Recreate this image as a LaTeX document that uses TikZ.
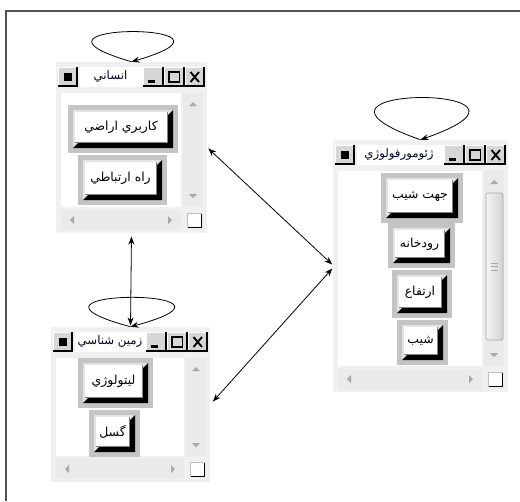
\documentclass[tikz,border=0pt]{standalone}
\usepackage{fontspec}
\usetikzlibrary{arrows.meta,fit}
\TeXXeTstate=1
\newfontfamily\arabicfont[Script=Arabic]{DejaVu Sans}
\definecolor{winbg}{HTML}{F0F0F0}
\definecolor{btnframe}{HTML}{C4C4C4}
\definecolor{btnhi}{HTML}{E4E4E4}
\definecolor{tbface}{HTML}{D6D6D6}
\definecolor{scrollbg}{HTML}{EAEAEA}
\definecolor{arrowgray}{HTML}{A8A8A8}
\definecolor{framegray}{HTML}{505050}
\tikzset{
  win/.style={fill=winbg, draw=none, inner sep=0pt},
  btntext/.style={font=\arabicfont\fontsize{9.3}{11}\selectfont, inner sep=0pt, text=black},
  titletext/.style={font=\arabicfont\fontsize{8.8}{11}\selectfont, inner sep=0pt, text=black!85!blue},
  tip/.tip={Stealth[length=6pt,width=4.5pt]},
  edge/.style={tip-tip, line width=0.6pt},
  selfloop/.style={-tip, line width=0.6pt},
}
% title-bar button face
\newcommand\tbtn[4]{%
  \fill[tbface] (#1,#2) rectangle (#3,#4);
  \draw[white, line width=0.75pt] (#1+0.5,#4-0.5) -- (#1+0.5,#2+0.5) -- (#3-0.5,#2+0.5);
  \draw[black, line width=1.1pt] (#1,#4-0.8) -- (#3-0.8,#4-0.8) -- (#3-0.8,#2);
}
% window chrome: L T R B
\newcommand\wchrome[4]{%
  \pgfmathsetmacro\cL{#1+5}\pgfmathsetmacro\cT{#2+31}%
  \pgfmathsetmacro\cR{#3-26}\pgfmathsetmacro\cB{#4-26}%
  \pgfmathsetmacro\vL{#3-24}\pgfmathsetmacro\vR{#3-4}\pgfmathsetmacro\vM{#3-14}%
  \pgfmathsetmacro\hT{#4-23}\pgfmathsetmacro\hB{#4-3}\pgfmathsetmacro\hM{#4-13}%
  \fill[white] (#1+24,#2+5) rectangle (#3-64,#2+25);
  \fill[white] (\cL,\cT) rectangle (\cR,\cB);
  \fill[scrollbg] (\vL,\cT) rectangle (\vR,\cB);
  \fill[arrowgray] (\vM-4,\cT+13) -- (\vM+4,\cT+13) -- (\vM,\cT+9) -- cycle;
  \fill[arrowgray] (\vM-4,\cB-13) -- (\vM+4,\cB-13) -- (\vM,\cB-9) -- cycle;
  \fill[scrollbg] (\cL,\hT) rectangle (\cR,\hB);
  \fill[arrowgray] (\cL+13,\hM-4) -- (\cL+13,\hM+4) -- (\cL+9,\hM) -- cycle;
  \fill[arrowgray] (\cR-13,\hM-4) -- (\cR-13,\hM+4) -- (\cR-9,\hM) -- cycle;
  \fill[white] (#3-20,#4-20) rectangle (#3-5,#4-5);
  \draw[black, line width=1pt] (#3-20,#4-5.5) -- (#3-5.5,#4-5.5) -- (#3-5.5,#4-20);
  \draw[gray!50, line width=0.6pt] (#3-20,#4-5.5) -- (#3-20,#4-20) -- (#3-5.5,#4-20);
  \tbtn{#1+2}{#2+5}{#1+22}{#2+25}
  \fill[black] (#1+8,#2+11) rectangle (#1+16,#2+19);
  \tbtn{#3-64}{#2+5}{#3-43}{#2+25}
  \fill[black] (#3-59,#2+18) rectangle (#3-52,#2+20.5);
  \tbtn{#3-43}{#2+5}{#3-22}{#2+25}
  \draw[black, line width=1.1pt] (#3-38,#2+10) rectangle (#3-27.5,#2+20);
  \tbtn{#3-22}{#2+5}{#3-2}{#2+25}
  \draw[black, line width=1.4pt] (#3-16.5,#2+10) -- (#3-8,#2+20) (#3-8,#2+10) -- (#3-16.5,#2+20);
}
% form button body: x1 y1 x2 y2
\newcommand\fbtn[4]{%
  \pgfmathsetmacro\ax{#1+5}\pgfmathsetmacro\ay{#2+5}%
  \pgfmathsetmacro\bx{#3-5}\pgfmathsetmacro\by{#4-5}%
  \fill[btnframe] (#1,#2) rectangle (#3,#4);
  \fill[btnhi] (\ax,\ay) rectangle (\bx,\by);
  \fill[black] (\bx,\ay) -- (\bx,\by) -- (\ax,\by) -- (\ax+5,\by-5) -- (\bx-5,\by-5) -- (\bx-5,\ay+5) -- cycle;
  \fill[white] (\ax+2,\ay+2) rectangle (\bx-6,\by-6);
  \draw[gray, line width=0.6pt] (\ax+2,\by-6) -- (\bx-6,\by-6) -- (\bx-6,\ay+2);
}
\begin{document}
\begin{tikzpicture}[x=0.75pt, y=-0.75pt]
\useasboundingbox (0,0) rectangle (520,501);
\fill[white] (0,0) rectangle (520,501);
\draw[framegray, line width=1.5pt] (6,501) -- (6,11) -- (520,11);

% windows
\node[win, fit={(56,62) (207,233)}] (w1) {};
\node[win, fit={(333,140) (508,392)}] (w2) {};
\node[win, fit={(51,327) (210,482)}] (w3) {};

\wchrome{56}{62}{207}{233}
\node[titletext] (t1) at (110.5,76) {\beginR انساني\endR};
\fbtn{68}{105}{178}{153}
\node[btntext] (b11) at (121,127.5) {\beginR كاربري اراضي\endR};
\fbtn{78}{155}{167}{205}
\node[btntext] (b12) at (120.5,178.5) {\beginR راه ارتباطي\endR};

\wchrome{333}{140}{508}{392}
\shade[left color=gray!8, right color=gray!35, draw=gray!70, rounded corners=1.5pt, line width=0.5pt] (486,193) rectangle (503,340);
\draw[gray!70, line width=0.6pt] (491,263) -- (498,263) (491,266.5) -- (498,266.5) (491,270) -- (498,270);
\node[titletext] (t2) at (399,154) {\beginR ژئومورفولوژي\endR};
\fbtn{381}{173}{463}{223}
\node[btntext] (b21) at (420,196.5) {\beginR جهت شيب\endR};
\fbtn{388}{223}{455}{268}
\node[btntext] (b22) at (419.5,244) {\beginR رودخانه\endR};
\fbtn{392}{270}{452}{318}
\node[btntext] (b23) at (420,292.5) {\beginR ارتفاع\endR};
\fbtn{397}{320}{448}{365}
\node[btntext] (b24) at (420.5,341) {\beginR شيب\endR};

\wchrome{51}{327}{210}{482}
\node[titletext] (t3) at (110,341) {\beginR زمين شناسي\endR};
\fbtn{78}{358}{153}{408}
\node[btntext] (b31) at (113.5,381.5) {\beginR ليتولوژي\endR};
\fbtn{89}{410}{140}{457}
\node[btntext] (b32) at (112.5,432) {\beginR گسل\endR};

% self loops
\draw[selfloop] (w1.north) .. controls +(-138,-40) and +(138,-40) .. (w1.north);
\draw[selfloop] (w2.north) .. controls +(-160,-56) and +(160,-56) .. (w2.north);
\draw[selfloop] (w3.north) .. controls +(-145,-39) and +(145,-39) .. (w3.north);

% connectors
\draw[edge, shorten <=2.5pt, shorten >=1pt] (w1.south) -- (w3.north);
\draw[edge, shorten <=1pt, shorten >=0.5pt] (w1.east) -- ([yshift=0.75pt]w2.west);
\draw[edge, shorten <=3pt, shorten >=0.5pt] (w3.east) -- ([yshift=-1.5pt]w2.west);
\end{tikzpicture}
\end{document}
